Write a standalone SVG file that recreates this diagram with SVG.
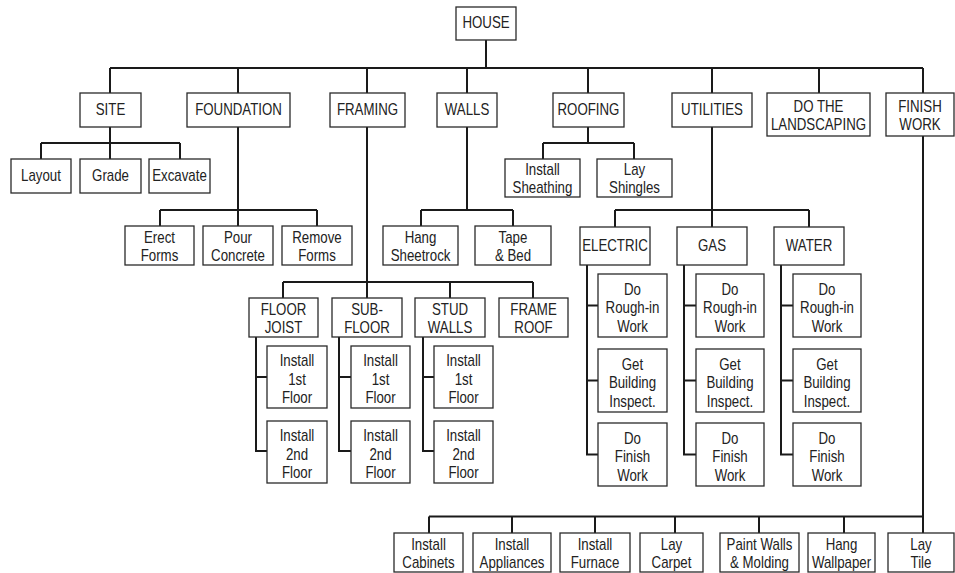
<svg xmlns="http://www.w3.org/2000/svg" width="955" height="573" viewBox="0 0 955 573">
<style>
.b{fill:#fff;stroke:#2a2a2a;stroke-width:1.3}
.t{font-family:"Liberation Sans",Arial,sans-serif;font-size:16px;fill:#222;text-anchor:middle;transform-box:fill-box;transform-origin:center;transform:scaleX(0.83)}
.c{fill:none;stroke:#1a1a1a;stroke-width:2}
</style>
<rect width="955" height="573" fill="#fff"/>
<g id="connectors" class="c">
<path d="M486,40V68M110,68H923M110,68V93M238,68V93M367,68V93M467,68V93M588,68V93M712,68V93M819,68V93M923,68V93"/>
<path d="M110,127V143M41,143H180M41,143V159M110,143V159M180,143V159"/>
<path d="M588,127V143M543,143H634M543,143V159M634,143V159"/>
<path d="M238,127V210M160,210H317M160,210V226M238,210V226M317,210V226"/>
<path d="M467,127V210M421,210H513M421,210V226M513,210V226"/>
<path d="M367,127V282M283,282H533M283,282V298M367,282V298M450,282V298M533,282V298"/>
<path d="M256,337V451H267M256,377H267M339,337V451H351M339,377H351M423,337V451H434M423,377H434"/>
<path d="M712,127V210M615,210H809M615,210V227M712,210V227M809,210V227"/>
<path d="M587,265V454.5H598M587,305.5H598M587,380.5H598M684,265V454.5H696M684,305.5H696M684,380.5H696M781,265V454.5H793M781,305.5H793M781,380.5H793"/>
<path d="M923,136V533M429,516.5H923M429,516.5V533M512,516.5V533M595,516.5V533M675,516.5V533M759,516.5V533M844,516.5V533"/>
</g>
<g id="house"><rect class="b" x="456" y="7" width="60" height="33"/><text class="t" x="486" y="28.5">HOUSE</text></g>
<g id="site"><rect class="b" x="80" y="93" width="61" height="34"/><text class="t" x="110.5" y="115">SITE</text></g>
<g id="foundation"><rect class="b" x="187" y="93" width="103" height="34"/><text class="t" x="238.5" y="115">FOUNDATION</text></g>
<g id="framing"><rect class="b" x="330" y="93" width="75" height="34"/><text class="t" x="367.5" y="115">FRAMING</text></g>
<g id="walls"><rect class="b" x="437" y="93" width="60" height="34"/><text class="t" x="467" y="115">WALLS</text></g>
<g id="roofing"><rect class="b" x="553" y="93" width="71" height="34"/><text class="t" x="588.5" y="115">ROOFING</text></g>
<g id="utilities"><rect class="b" x="672" y="93" width="80" height="34"/><text class="t" x="712" y="115">UTILITIES</text></g>
<g id="landscaping"><rect class="b" x="767" y="93" width="103" height="43"/><text class="t" x="818.5" y="112">DO THE</text><text class="t" x="818.5" y="130">LANDSCAPING</text></g>
<g id="finish"><rect class="b" x="886" y="93" width="68" height="43"/><text class="t" x="920" y="112">FINISH</text><text class="t" x="920" y="130">WORK</text></g>
<g id="layout"><rect class="b" x="11" y="159" width="60" height="34"/><text class="t" x="41" y="181">Layout</text></g>
<g id="grade"><rect class="b" x="80" y="159" width="61" height="34"/><text class="t" x="110.5" y="181">Grade</text></g>
<g id="excavate"><rect class="b" x="149" y="159" width="61" height="34"/><text class="t" x="179.5" y="181">Excavate</text></g>
<g id="sheathing"><rect class="b" x="505" y="159" width="75" height="38"/><text class="t" x="542.5" y="175.5">Install</text><text class="t" x="542.5" y="193.5">Sheathing</text></g>
<g id="shingles"><rect class="b" x="597" y="159" width="75" height="38"/><text class="t" x="634.5" y="175.5">Lay</text><text class="t" x="634.5" y="193.5">Shingles</text></g>
<g id="erect"><rect class="b" x="125" y="226" width="69" height="39"/><text class="t" x="159.5" y="243">Erect</text><text class="t" x="159.5" y="261">Forms</text></g>
<g id="pour"><rect class="b" x="203" y="226" width="70" height="39"/><text class="t" x="238" y="243">Pour</text><text class="t" x="238" y="261">Concrete</text></g>
<g id="remove"><rect class="b" x="282" y="226" width="70" height="39"/><text class="t" x="317" y="243">Remove</text><text class="t" x="317" y="261">Forms</text></g>
<g id="sheetrock"><rect class="b" x="383" y="226" width="75" height="39"/><text class="t" x="420.5" y="243">Hang</text><text class="t" x="420.5" y="261">Sheetrock</text></g>
<g id="tape"><rect class="b" x="475" y="226" width="76" height="39"/><text class="t" x="513" y="243">Tape</text><text class="t" x="513" y="261">&amp; Bed</text></g>
<g id="joist"><rect class="b" x="249" y="298" width="69" height="39"/><text class="t" x="283.5" y="315">FLOOR</text><text class="t" x="283.5" y="333">JOIST</text></g>
<g id="subfloor"><rect class="b" x="332" y="298" width="70" height="39"/><text class="t" x="367" y="315">SUB-</text><text class="t" x="367" y="333">FLOOR</text></g>
<g id="stud"><rect class="b" x="415" y="298" width="70" height="39"/><text class="t" x="450" y="315">STUD</text><text class="t" x="450" y="333">WALLS</text></g>
<g id="frameroof"><rect class="b" x="499" y="298" width="69" height="39"/><text class="t" x="533.5" y="315">FRAME</text><text class="t" x="533.5" y="333">ROOF</text></g>
<g id="joist1"><rect class="b" x="267" y="346" width="60" height="62"/><text class="t" x="297" y="366.5">Install</text><text class="t" x="297" y="385">1st</text><text class="t" x="297" y="403.5">Floor</text></g>
<g id="joist2"><rect class="b" x="267" y="421" width="60" height="62"/><text class="t" x="297" y="441.5">Install</text><text class="t" x="297" y="460">2nd</text><text class="t" x="297" y="478.5">Floor</text></g>
<g id="sub1"><rect class="b" x="351" y="346" width="59" height="62"/><text class="t" x="380.5" y="366.5">Install</text><text class="t" x="380.5" y="385">1st</text><text class="t" x="380.5" y="403.5">Floor</text></g>
<g id="sub2"><rect class="b" x="351" y="421" width="59" height="62"/><text class="t" x="380.5" y="441.5">Install</text><text class="t" x="380.5" y="460">2nd</text><text class="t" x="380.5" y="478.5">Floor</text></g>
<g id="stud1"><rect class="b" x="434" y="346" width="59" height="62"/><text class="t" x="463.5" y="366.5">Install</text><text class="t" x="463.5" y="385">1st</text><text class="t" x="463.5" y="403.5">Floor</text></g>
<g id="stud2"><rect class="b" x="434" y="421" width="59" height="62"/><text class="t" x="463.5" y="441.5">Install</text><text class="t" x="463.5" y="460">2nd</text><text class="t" x="463.5" y="478.5">Floor</text></g>
<g id="electric"><rect class="b" x="580" y="227" width="70" height="38"/><text class="t" x="615" y="251">ELECTRIC</text></g>
<g id="gas"><rect class="b" x="677" y="227" width="70" height="38"/><text class="t" x="712" y="251">GAS</text></g>
<g id="water"><rect class="b" x="774" y="227" width="70" height="38"/><text class="t" x="809" y="251">WATER</text></g>
<g id="elec1"><rect class="b" x="598" y="274" width="69" height="63"/><text class="t" x="632.5" y="295">Do</text><text class="t" x="632.5" y="313.5">Rough-in</text><text class="t" x="632.5" y="332">Work</text></g>
<g id="elec2"><rect class="b" x="598" y="349" width="69" height="63"/><text class="t" x="632.5" y="370">Get</text><text class="t" x="632.5" y="388.5">Building</text><text class="t" x="632.5" y="407">Inspect.</text></g>
<g id="elec3"><rect class="b" x="598" y="423" width="69" height="63"/><text class="t" x="632.5" y="444">Do</text><text class="t" x="632.5" y="462.5">Finish</text><text class="t" x="632.5" y="481">Work</text></g>
<g id="gas1"><rect class="b" x="696" y="274" width="68" height="63"/><text class="t" x="730" y="295">Do</text><text class="t" x="730" y="313.5">Rough-in</text><text class="t" x="730" y="332">Work</text></g>
<g id="gas2"><rect class="b" x="696" y="349" width="68" height="63"/><text class="t" x="730" y="370">Get</text><text class="t" x="730" y="388.5">Building</text><text class="t" x="730" y="407">Inspect.</text></g>
<g id="gas3"><rect class="b" x="696" y="423" width="68" height="63"/><text class="t" x="730" y="444">Do</text><text class="t" x="730" y="462.5">Finish</text><text class="t" x="730" y="481">Work</text></g>
<g id="water1"><rect class="b" x="793" y="274" width="68" height="63"/><text class="t" x="827" y="295">Do</text><text class="t" x="827" y="313.5">Rough-in</text><text class="t" x="827" y="332">Work</text></g>
<g id="water2"><rect class="b" x="793" y="349" width="68" height="63"/><text class="t" x="827" y="370">Get</text><text class="t" x="827" y="388.5">Building</text><text class="t" x="827" y="407">Inspect.</text></g>
<g id="water3"><rect class="b" x="793" y="423" width="68" height="63"/><text class="t" x="827" y="444">Do</text><text class="t" x="827" y="462.5">Finish</text><text class="t" x="827" y="481">Work</text></g>
<g id="cabinets"><rect class="b" x="394" y="533" width="69" height="39"/><text class="t" x="428.5" y="550">Install</text><text class="t" x="428.5" y="568">Cabinets</text></g>
<g id="appliances"><rect class="b" x="473" y="533" width="78" height="39"/><text class="t" x="512" y="550">Install</text><text class="t" x="512" y="568">Appliances</text></g>
<g id="furnace"><rect class="b" x="560" y="533" width="70" height="39"/><text class="t" x="595" y="550">Install</text><text class="t" x="595" y="568">Furnace</text></g>
<g id="carpet"><rect class="b" x="640" y="533" width="63" height="39"/><text class="t" x="671.5" y="550">Lay</text><text class="t" x="671.5" y="568">Carpet</text></g>
<g id="paint"><rect class="b" x="720" y="533" width="79" height="39"/><text class="t" x="759.5" y="550">Paint Walls</text><text class="t" x="759.5" y="568">&amp; Molding</text></g>
<g id="wallpaper"><rect class="b" x="808" y="533" width="67" height="39"/><text class="t" x="841.5" y="550">Hang</text><text class="t" x="841.5" y="568">Wallpaper</text></g>
<g id="tile"><rect class="b" x="888" y="533" width="66" height="39"/><text class="t" x="921" y="550">Lay</text><text class="t" x="921" y="568">Tile</text></g>
</svg>
